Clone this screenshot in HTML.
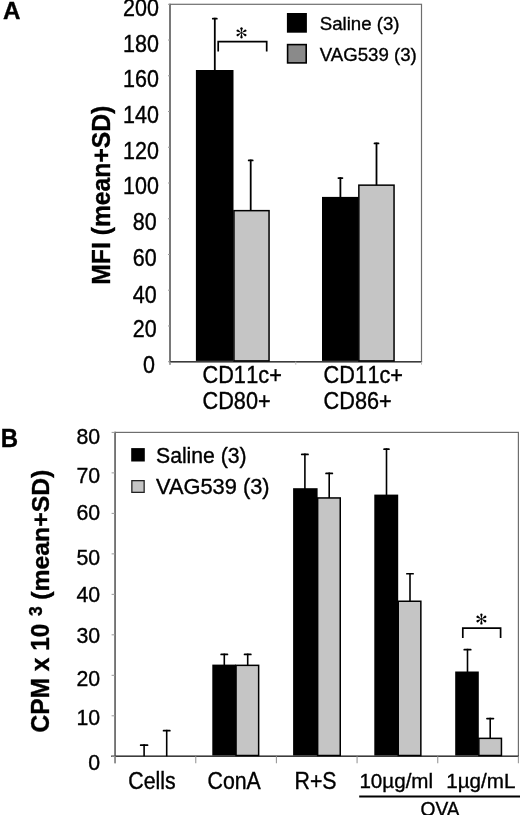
<!DOCTYPE html>
<html><head><meta charset="utf-8"><style>
html,body{margin:0;padding:0;background:#fff;}
body{width:520px;height:815px;overflow:hidden;}
svg{display:block;filter:grayscale(1) blur(0.35px);}
text{font-family:"Liberation Sans", sans-serif;fill:#000;stroke:#000;stroke-width:0.35px;}
</style></head><body>
<svg width="520" height="815" viewBox="0 0 520 815">
<rect width="520" height="815" fill="#fff"/>
<rect x="170.0" y="4.3" width="251.5" height="357.4" fill="none" stroke="#6e6e6e" stroke-width="1.2"/>
<line x1="170.0" y1="3.6999999999999997" x2="170.0" y2="364.7" stroke="#6e6e6e" stroke-width="1.6"/>
<line x1="169.0" y1="361.7" x2="422.1" y2="361.7" stroke="#3c3c3c" stroke-width="1.4"/>
<line x1="168.0" y1="361.70" x2="170.0" y2="361.70" stroke="#9a9a9a" stroke-width="1"/>
<text transform="translate(154.90 373.40) scale(1.000 1.080)" style="font-size:21.5px" text-anchor="end">0</text>
<line x1="168.0" y1="325.96" x2="170.0" y2="325.96" stroke="#9a9a9a" stroke-width="1"/>
<text transform="translate(156.60 337.10) scale(1.000 1.080)" style="font-size:21.5px" text-anchor="end">20</text>
<line x1="168.0" y1="290.22" x2="170.0" y2="290.22" stroke="#9a9a9a" stroke-width="1"/>
<text transform="translate(156.60 302.50) scale(1.000 1.080)" style="font-size:21.5px" text-anchor="end">40</text>
<line x1="168.0" y1="254.48" x2="170.0" y2="254.48" stroke="#9a9a9a" stroke-width="1"/>
<text transform="translate(156.60 266.40) scale(1.000 1.080)" style="font-size:21.5px" text-anchor="end">60</text>
<line x1="168.0" y1="218.74" x2="170.0" y2="218.74" stroke="#9a9a9a" stroke-width="1"/>
<text transform="translate(156.60 229.80) scale(1.000 1.080)" style="font-size:21.5px" text-anchor="end">80</text>
<line x1="168.0" y1="183.00" x2="170.0" y2="183.00" stroke="#9a9a9a" stroke-width="1"/>
<text transform="translate(158.90 194.30) scale(1.000 1.080)" style="font-size:21.5px" text-anchor="end">100</text>
<line x1="168.0" y1="147.26" x2="170.0" y2="147.26" stroke="#9a9a9a" stroke-width="1"/>
<text transform="translate(158.90 159.00) scale(1.000 1.080)" style="font-size:21.5px" text-anchor="end">120</text>
<line x1="168.0" y1="111.52" x2="170.0" y2="111.52" stroke="#9a9a9a" stroke-width="1"/>
<text transform="translate(158.90 122.50) scale(1.000 1.080)" style="font-size:21.5px" text-anchor="end">140</text>
<line x1="168.0" y1="75.78" x2="170.0" y2="75.78" stroke="#9a9a9a" stroke-width="1"/>
<text transform="translate(158.90 86.70) scale(1.000 1.080)" style="font-size:21.5px" text-anchor="end">160</text>
<line x1="168.0" y1="40.04" x2="170.0" y2="40.04" stroke="#9a9a9a" stroke-width="1"/>
<text transform="translate(158.90 51.60) scale(1.000 1.080)" style="font-size:21.5px" text-anchor="end">180</text>
<line x1="168.0" y1="4.30" x2="170.0" y2="4.30" stroke="#9a9a9a" stroke-width="1"/>
<text transform="translate(158.90 15.50) scale(1.000 1.080)" style="font-size:21.5px" text-anchor="end">200</text>
<line x1="170.00" y1="361.7" x2="170.00" y2="364.7" stroke="#bbb" stroke-width="1"/>
<line x1="295.75" y1="361.7" x2="295.75" y2="364.7" stroke="#bbb" stroke-width="1"/>
<line x1="421.50" y1="361.7" x2="421.50" y2="364.7" stroke="#bbb" stroke-width="1"/>
<line x1="214.80" y1="17.80" x2="214.80" y2="70.50" stroke="#000" stroke-width="1.8"/>
<line x1="212.75" y1="18.65" x2="216.85" y2="18.65" stroke="#000" stroke-width="1.7" stroke-linecap="round"/>
<line x1="250.70" y1="159.60" x2="250.70" y2="210.00" stroke="#000" stroke-width="1.8"/>
<line x1="248.65" y1="160.45" x2="252.75" y2="160.45" stroke="#000" stroke-width="1.7" stroke-linecap="round"/>
<rect x="195.90" y="70.00" width="37.60" height="290.90" fill="#000"/>
<rect x="233.95" y="210.65" width="35.10" height="150.25" fill="#c5c5c5" stroke="#000" stroke-width="1.5"/>
<line x1="340.40" y1="177.20" x2="340.40" y2="197.50" stroke="#000" stroke-width="1.8"/>
<line x1="338.35" y1="178.05" x2="342.45" y2="178.05" stroke="#000" stroke-width="1.7" stroke-linecap="round"/>
<line x1="376.50" y1="142.60" x2="376.50" y2="185.00" stroke="#000" stroke-width="1.8"/>
<line x1="374.45" y1="143.45" x2="378.55" y2="143.45" stroke="#000" stroke-width="1.7" stroke-linecap="round"/>
<rect x="322.00" y="196.90" width="36.60" height="164.00" fill="#000"/>
<rect x="358.85" y="185.15" width="35.20" height="175.75" fill="#c5c5c5" stroke="#000" stroke-width="1.5"/>
<path d="M218.2 51.4 V41.7 H266.7 V51.4" fill="none" stroke="#000" stroke-width="1.7"/>
<g transform="translate(241.50 32.85)" fill="#000"><path d="M0 0 L-1.23 -4.70 A1.30 1.30 0 0 1 1.23 -4.70 Z" transform="rotate(0)"/><path d="M0 0 L-1.23 -4.70 A1.30 1.30 0 0 1 1.23 -4.70 Z" transform="rotate(60)"/><path d="M0 0 L-1.23 -4.70 A1.30 1.30 0 0 1 1.23 -4.70 Z" transform="rotate(120)"/><path d="M0 0 L-1.23 -4.70 A1.30 1.30 0 0 1 1.23 -4.70 Z" transform="rotate(180)"/><path d="M0 0 L-1.23 -4.70 A1.30 1.30 0 0 1 1.23 -4.70 Z" transform="rotate(240)"/><path d="M0 0 L-1.23 -4.70 A1.30 1.30 0 0 1 1.23 -4.70 Z" transform="rotate(300)"/><circle r="0.9"/></g>
<rect x="286.9" y="13.0" width="20" height="19.7" fill="#000"/>
<rect x="287.6" y="44.6" width="18.6" height="18.3" fill="#8a8a8a" stroke="#000" stroke-width="1.6"/>
<text transform="translate(319.70 29.90) scale(1.000 1.030)" style="font-size:18.65px">Saline (3)</text>
<text transform="translate(319.70 60.80) scale(1.000 1.030)" style="font-size:18.65px">VAG539 (3)</text>
<text transform="translate(202.50 382.90) scale(1.000 1.110)" style="font-size:21.7px">CD1<tspan dx="0.4">1c+</tspan></text>
<text transform="translate(202.50 408.70) scale(1.000 1.110)" style="font-size:21.7px">CD80+</text>
<text transform="translate(323.60 382.90) scale(1.000 1.110)" style="font-size:21.7px">CD1<tspan dx="0.4">1c+</tspan></text>
<text transform="translate(323.60 408.70) scale(1.000 1.110)" style="font-size:21.7px">CD86+</text>
<text transform="translate(110.00 195.20) rotate(-90) scale(1.000 1.030)" style="font-size:24.7px;font-weight:bold" text-anchor="middle">MFI (mean+SD)</text>
<text transform="translate(2.90 19.40) scale(1.000 1.010)" style="font-size:24.2px;font-weight:bold">A</text>
<rect x="115.1" y="432.4" width="403.29999999999995" height="323.9" fill="none" stroke="#6e6e6e" stroke-width="1.2"/>
<line x1="115.1" y1="431.79999999999995" x2="115.1" y2="763.3" stroke="#6e6e6e" stroke-width="1.6"/>
<line x1="111.1" y1="756.3" x2="519.0" y2="756.3" stroke="#3c3c3c" stroke-width="1.4"/>
<line x1="111.6" y1="756.30" x2="115.1" y2="756.30" stroke="#9a9a9a" stroke-width="1"/>
<text transform="translate(100.10 769.70) scale(1.000 1.050)" style="font-size:21.3px" text-anchor="end">0</text>
<line x1="111.6" y1="715.81" x2="115.1" y2="715.81" stroke="#9a9a9a" stroke-width="1"/>
<text transform="translate(100.10 724.80) scale(1.000 1.050)" style="font-size:21.3px" text-anchor="end">10</text>
<line x1="111.6" y1="675.32" x2="115.1" y2="675.32" stroke="#9a9a9a" stroke-width="1"/>
<text transform="translate(100.10 685.80) scale(1.000 1.050)" style="font-size:21.3px" text-anchor="end">20</text>
<line x1="111.6" y1="634.84" x2="115.1" y2="634.84" stroke="#9a9a9a" stroke-width="1"/>
<text transform="translate(100.10 642.60) scale(1.000 1.050)" style="font-size:21.3px" text-anchor="end">30</text>
<line x1="111.6" y1="594.35" x2="115.1" y2="594.35" stroke="#9a9a9a" stroke-width="1"/>
<text transform="translate(100.10 602.40) scale(1.000 1.050)" style="font-size:21.3px" text-anchor="end">40</text>
<line x1="111.6" y1="553.86" x2="115.1" y2="553.86" stroke="#9a9a9a" stroke-width="1"/>
<text transform="translate(100.10 564.90) scale(1.000 1.050)" style="font-size:21.3px" text-anchor="end">50</text>
<line x1="111.6" y1="513.38" x2="115.1" y2="513.38" stroke="#9a9a9a" stroke-width="1"/>
<text transform="translate(100.10 519.90) scale(1.000 1.050)" style="font-size:21.3px" text-anchor="end">60</text>
<line x1="111.6" y1="472.89" x2="115.1" y2="472.89" stroke="#9a9a9a" stroke-width="1"/>
<text transform="translate(100.10 483.10) scale(1.000 1.050)" style="font-size:21.3px" text-anchor="end">70</text>
<line x1="111.6" y1="432.40" x2="115.1" y2="432.40" stroke="#9a9a9a" stroke-width="1"/>
<text transform="translate(100.10 443.80) scale(1.000 1.050)" style="font-size:21.3px" text-anchor="end">80</text>
<line x1="115.10" y1="756.3" x2="115.10" y2="763.3" stroke="#999" stroke-width="1.1"/>
<line x1="195.76" y1="756.3" x2="195.76" y2="763.3" stroke="#999" stroke-width="1.1"/>
<line x1="276.42" y1="756.3" x2="276.42" y2="763.3" stroke="#999" stroke-width="1.1"/>
<line x1="357.08" y1="756.3" x2="357.08" y2="763.3" stroke="#999" stroke-width="1.1"/>
<line x1="437.74" y1="756.3" x2="437.74" y2="763.3" stroke="#999" stroke-width="1.1"/>
<line x1="518.40" y1="756.3" x2="518.40" y2="763.3" stroke="#999" stroke-width="1.1"/>
<line x1="144.10" y1="744.30" x2="144.10" y2="756.30" stroke="#000" stroke-width="1.6"/>
<line x1="140.65" y1="745.15" x2="147.55" y2="745.15" stroke="#000" stroke-width="1.7" stroke-linecap="round"/>
<line x1="166.70" y1="729.80" x2="166.70" y2="756.30" stroke="#000" stroke-width="1.6"/>
<line x1="163.55" y1="730.65" x2="169.85" y2="730.65" stroke="#000" stroke-width="1.7" stroke-linecap="round"/>
<line x1="224.30" y1="653.60" x2="224.30" y2="665.00" stroke="#000" stroke-width="1.6"/>
<line x1="221.15" y1="654.45" x2="227.45" y2="654.45" stroke="#000" stroke-width="1.7" stroke-linecap="round"/>
<line x1="247.70" y1="653.60" x2="247.70" y2="665.00" stroke="#000" stroke-width="1.6"/>
<line x1="244.55" y1="654.45" x2="250.85" y2="654.45" stroke="#000" stroke-width="1.7" stroke-linecap="round"/>
<rect x="212.30" y="664.60" width="23.70" height="90.90" fill="#000"/>
<rect x="236.05" y="665.35" width="22.60" height="90.15" fill="#c5c5c5" stroke="#000" stroke-width="1.5"/>
<line x1="304.90" y1="453.60" x2="304.90" y2="489.00" stroke="#000" stroke-width="1.6"/>
<line x1="301.75" y1="454.45" x2="308.05" y2="454.45" stroke="#000" stroke-width="1.7" stroke-linecap="round"/>
<line x1="329.20" y1="472.60" x2="329.20" y2="498.00" stroke="#000" stroke-width="1.6"/>
<line x1="326.05" y1="473.45" x2="332.35" y2="473.45" stroke="#000" stroke-width="1.7" stroke-linecap="round"/>
<rect x="293.10" y="488.20" width="24.50" height="267.30" fill="#000"/>
<rect x="317.65" y="497.95" width="22.60" height="257.55" fill="#c5c5c5" stroke="#000" stroke-width="1.5"/>
<line x1="386.50" y1="448.30" x2="386.50" y2="495.00" stroke="#000" stroke-width="1.6"/>
<line x1="384.05" y1="449.15" x2="388.95" y2="449.15" stroke="#000" stroke-width="1.7" stroke-linecap="round"/>
<line x1="410.00" y1="572.90" x2="410.00" y2="601.00" stroke="#000" stroke-width="1.6"/>
<line x1="406.85" y1="573.75" x2="413.15" y2="573.75" stroke="#000" stroke-width="1.7" stroke-linecap="round"/>
<rect x="374.30" y="494.60" width="23.90" height="260.90" fill="#000"/>
<rect x="398.25" y="601.25" width="22.60" height="154.25" fill="#c5c5c5" stroke="#000" stroke-width="1.5"/>
<line x1="467.50" y1="648.80" x2="467.50" y2="672.00" stroke="#000" stroke-width="1.6"/>
<line x1="464.25" y1="649.65" x2="470.75" y2="649.65" stroke="#000" stroke-width="1.7" stroke-linecap="round"/>
<line x1="490.20" y1="717.70" x2="490.20" y2="739.00" stroke="#000" stroke-width="1.6"/>
<line x1="486.95" y1="718.55" x2="493.45" y2="718.55" stroke="#000" stroke-width="1.7" stroke-linecap="round"/>
<rect x="455.20" y="671.50" width="23.60" height="84.00" fill="#000"/>
<rect x="478.85" y="738.35" width="22.60" height="17.15" fill="#c5c5c5" stroke="#000" stroke-width="1.5"/>
<path d="M462.8 637.9 V628.2 H500.6 V637.9" fill="none" stroke="#000" stroke-width="1.7"/>
<g transform="translate(481.40 619.00)" fill="#000"><path d="M0 0 L-1.23 -4.70 A1.30 1.30 0 0 1 1.23 -4.70 Z" transform="rotate(0)"/><path d="M0 0 L-1.23 -4.70 A1.30 1.30 0 0 1 1.23 -4.70 Z" transform="rotate(60)"/><path d="M0 0 L-1.23 -4.70 A1.30 1.30 0 0 1 1.23 -4.70 Z" transform="rotate(120)"/><path d="M0 0 L-1.23 -4.70 A1.30 1.30 0 0 1 1.23 -4.70 Z" transform="rotate(180)"/><path d="M0 0 L-1.23 -4.70 A1.30 1.30 0 0 1 1.23 -4.70 Z" transform="rotate(240)"/><path d="M0 0 L-1.23 -4.70 A1.30 1.30 0 0 1 1.23 -4.70 Z" transform="rotate(300)"/><circle r="0.9"/></g>
<rect x="131.2" y="448.1" width="13.6" height="13.4" fill="#000"/>
<rect x="131.85" y="480.65" width="12.3" height="11.7" fill="#c5c5c5" stroke="#222" stroke-width="1.3"/>
<text transform="translate(156.00 462.60) scale(1.000 1.070)" style="font-size:21.2px">Saline (3)</text>
<text transform="translate(156.00 493.50) scale(1.030 1.070)" style="font-size:21.2px">VAG539 (3)</text>
<text transform="translate(152.00 788.60) scale(1.000 1.130)" style="font-size:21.3px" text-anchor="middle">Cells</text>
<text transform="translate(234.20 788.60) scale(1.000 1.130)" style="font-size:21.3px" text-anchor="middle">ConA</text>
<text transform="translate(315.50 788.60) scale(1.000 1.130)" style="font-size:21.3px" text-anchor="middle">R+S</text>
<text transform="translate(396.25 788.30)" style="font-size:20.6px" text-anchor="middle">10&#181;g/ml</text>
<text transform="translate(480.80 788.30)" style="font-size:20.6px" text-anchor="middle">1&#181;g/mL</text>
<line x1="359.2" y1="796.5" x2="520" y2="796.5" stroke="#000" stroke-width="1.8"/>
<text transform="translate(440.00 815.60) scale(1.000 1.090)" style="font-size:19.2px" text-anchor="middle">OVA</text>
<text transform="translate(49.00 732.50) rotate(-90) scale(1.000 1.020)" style="font-size:24.5px;font-weight:bold">CPM x 10</text>
<text transform="translate(41.80 616.05) rotate(-90) scale(1.000 1.040)" style="font-size:17.5px;font-weight:bold">3</text>
<text transform="translate(49.00 599.85) rotate(-90)" style="font-size:24.8px;font-weight:bold">(mean+SD)</text>
<text transform="translate(0.75 446.80) scale(1.000 1.050)" style="font-size:24.0px;font-weight:bold">B</text>
</svg>
</body></html>
